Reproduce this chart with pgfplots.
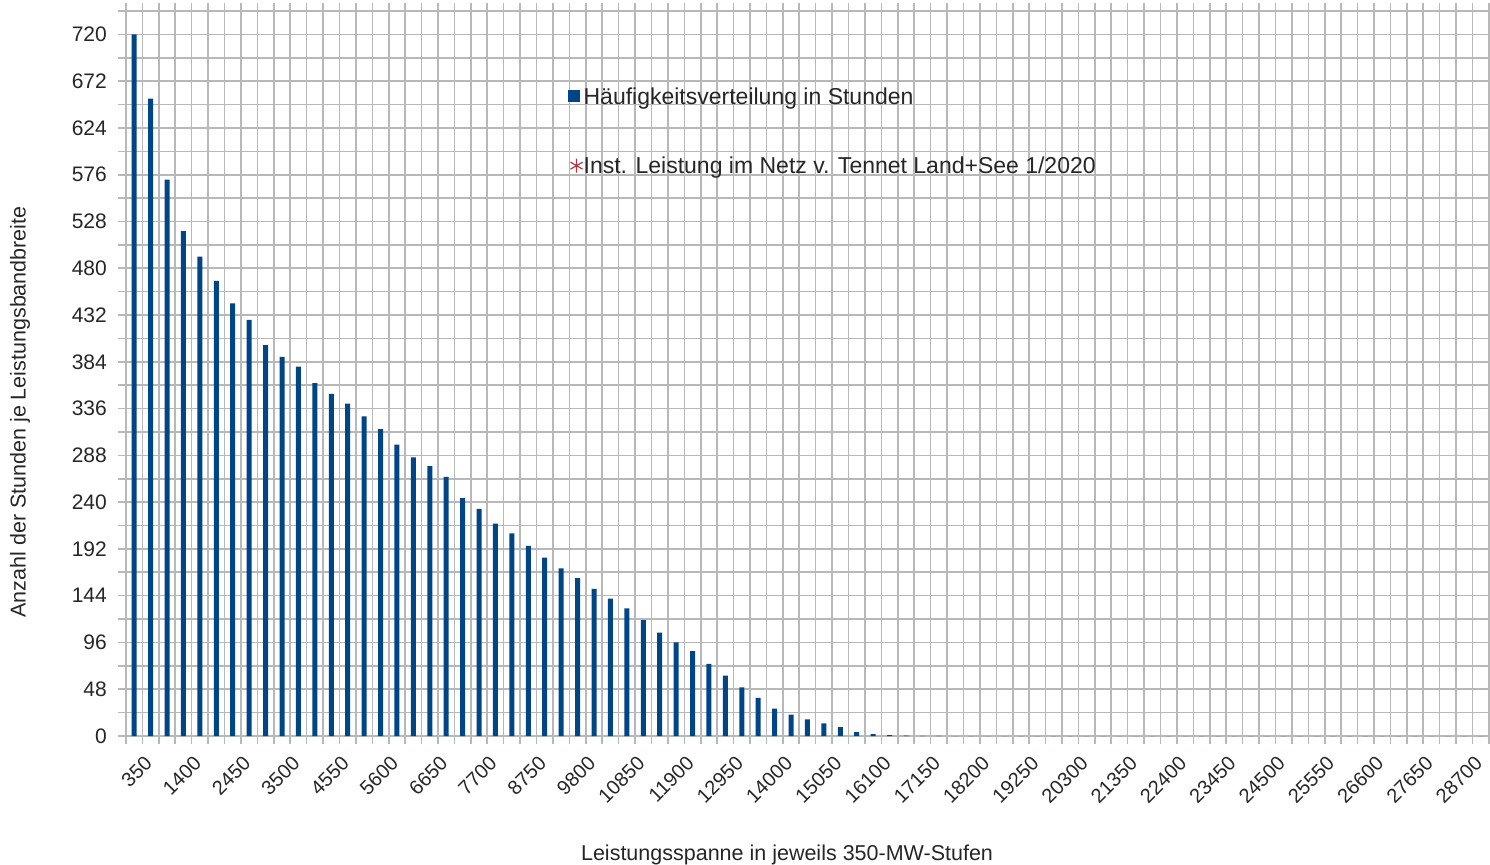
\documentclass[border=0pt]{standalone}
\usepackage{fontspec}
\setmainfont{Liberation Sans}
\usepackage{pgfplots}
\pgfplotsset{compat=1.18}

\definecolor{barblue}{HTML}{004586}
\definecolor{gridgray}{HTML}{B8B8B8}
\definecolor{markred}{HTML}{B03844}

% hours per 350-MW band
\pgfplotstableread{
k h
1 720
2 654
3 571
4 518
5 492
6 467
7 444
8 427
9 401
10 389
11 379
12 362
13 351
14 341
15 328
16 315
17 299
18 286
19 277
20 266
21 244
22 233
23 218
24 208
25 195
26 183
27 172
28 162
29 151
30 141
31 131
32 119
33 106
34 96
35 87
36 74
37 62
38 50
39 39
40 28
41 22
42 17
43 13
44 9
45 4
46 2
47 1
48 0.5
49 0.2
50 0.2
51 0
52 0
53 0
54 0
55 0
56 0
57 0
58 0
59 0
60 0
61 0
62 0
63 0
64 0
65 0
66 0
67 0
68 0
69 0
70 0
71 0
72 0
73 0
74 0
75 0
76 0
77 0
78 0
79 0
80 0
81 0
82 0
83 0
}\hours

\begin{document}
\begin{tikzpicture}
\path[use as bounding box] (-126bp,-129bp) rectangle (1364bp,736bp);
\begin{axis}[
    at={(0,0)}, anchor=south west,
    scale only axis,
    width=1363bp, height=725bp,
    xmin=0.5, xmax=83.5,
    ymin=0, ymax=744,
    xtick={1,4,...,82},
    xticklabels={350,1400,2450,3500,4550,5600,6650,7700,8750,9800,10850,11900,12950,14000,15050,16100,17150,18200,19250,20300,21350,22400,23450,24500,25550,26600,27650,28700},
    minor xtick={0.5,1.5,...,83.5},
    ytick={0,48,...,720},
    minor ytick={24,72,...,744},
    xmajorgrids=false, xminorgrids=true, ymajorgrids=true, yminorgrids=true,
    grid style={draw=gridgray, line width=1.6bp},
    minor grid style={draw=gridgray, line width=1.6bp},
    tick align=outside,
    major tick length=8bp, minor tick length=8bp,
    every tick/.style={draw=gridgray, line width=1.6bp},
    every minor tick/.style={draw=gridgray, line width=1.6bp},
    major x tick style={draw=none},
    axis line style={draw=gridgray, line width=1.6bp},
    tick label style={font=\fontsize{21bp}{25bp}\selectfont, text=black!85},
    xticklabel style={font=\fontsize{20bp}{24bp}\selectfont, rotate=45, anchor=north east,
        inner sep=0pt, yshift=-14bp, xshift=-1bp},
    yticklabel style={inner sep=0pt, xshift=-11bp},
    /pgf/number format/assume math mode=true,
    xlabel={Leistungsspanne in jeweils 350-MW-Stufen},
    ylabel={Anzahl der Stunden je Leistungsbandbreite},
    every axis x label/.style={at={(axis description cs:0.485,-0.164)}, anchor=center,
        font=\fontsize{21.5bp}{25bp}\selectfont, text=black!85},
    every axis y label/.style={at={(axis description cs:-0.0778,0.447)}, rotate=90, anchor=center,
        font=\fontsize{21.5bp}{25bp}\selectfont, text=black!85},
    legend style={at={(axis description cs:0.322,0.899)}, anchor=north west,
        draw=none, fill=none, row sep=49bp,
        font=\fontsize{23bp}{27bp}\selectfont,
        nodes={inner sep=1bp, text=black!85}},
    legend cell align=left,
]
\addplot[ybar, bar width=5bp, fill=barblue, draw=none,
    legend image code/.code={\fill[barblue] (0bp,-6bp) rectangle (12bp,6bp);}]
    table[x=k, y=h] {\hours};
\addlegendentry{Häufigkeitsverteilung in Stunden}
\addlegendimage{only marks, mark=asterisk, mark size=7bp, draw=markred, line width=1.2bp}
\addlegendentry{Inst. Leistung im Netz v. Tennet  Land+See 1/2020}
\end{axis}
\end{tikzpicture}
\end{document}
